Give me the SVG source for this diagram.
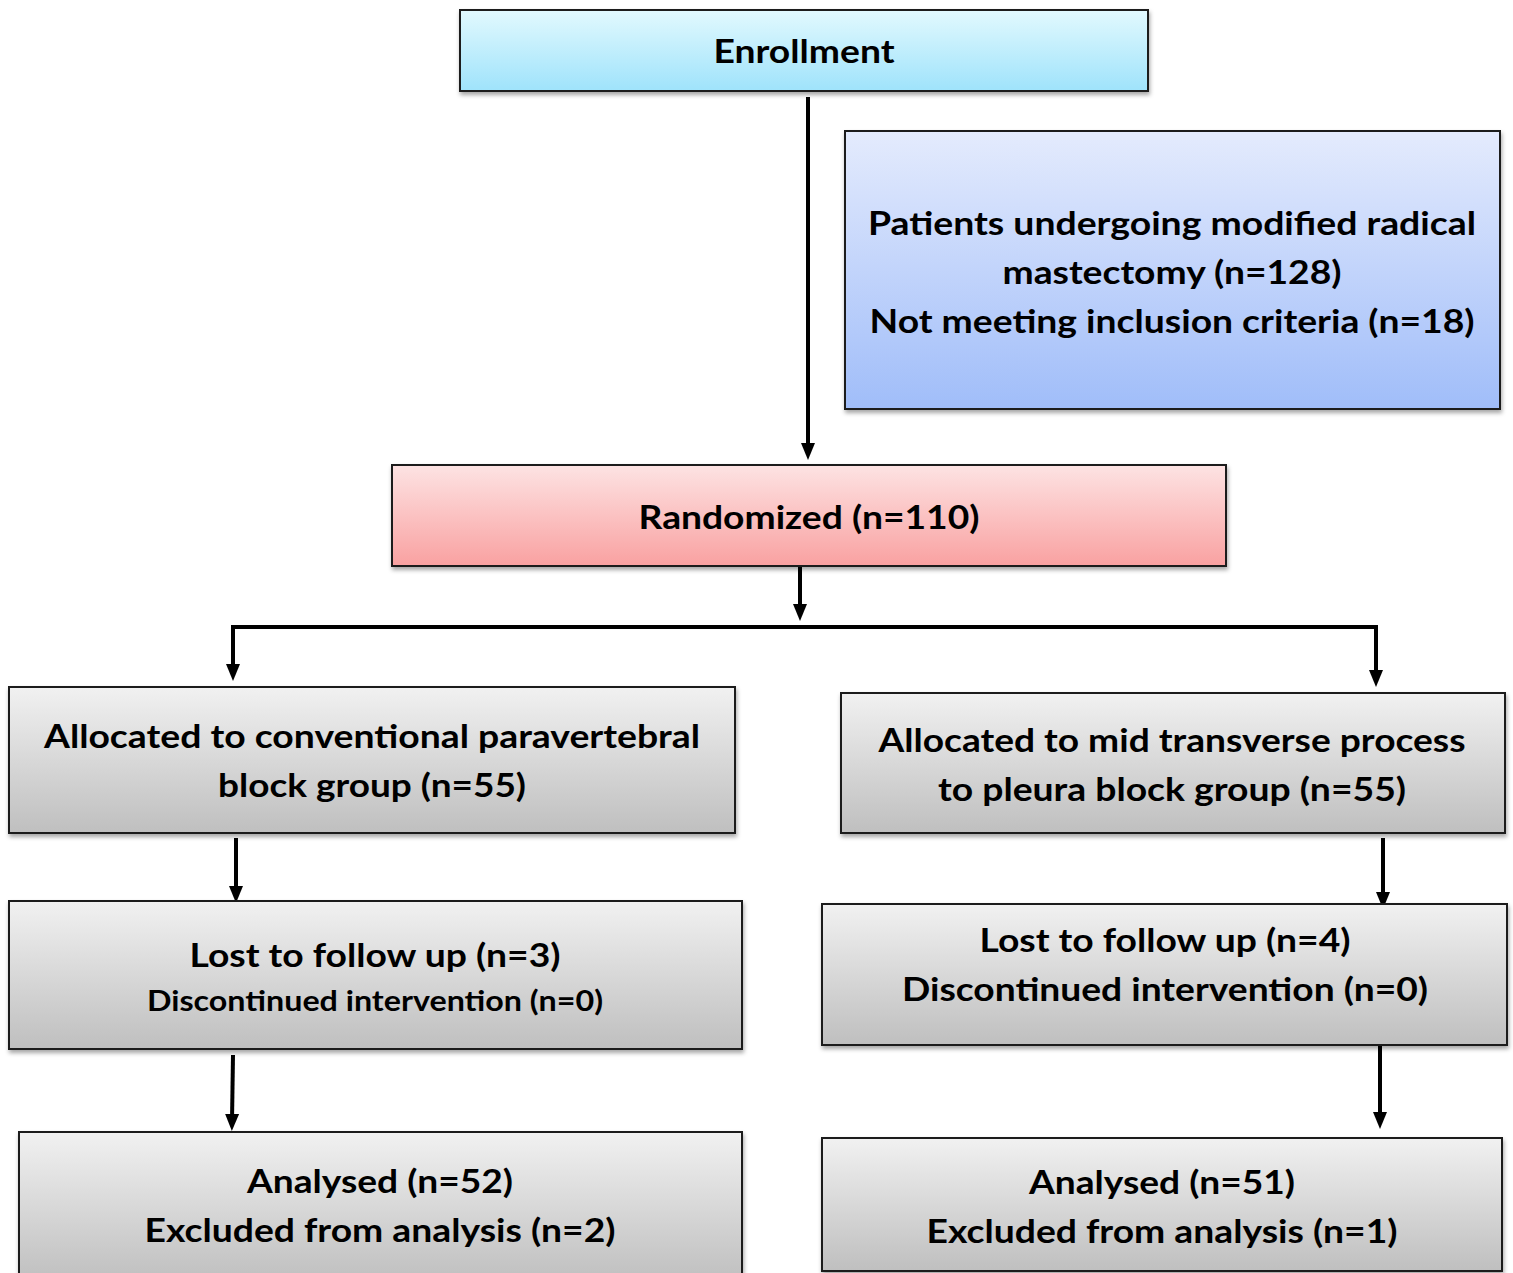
<svg xmlns="http://www.w3.org/2000/svg" width="1513" height="1273" viewBox="0 0 1513 1273">
<style>
.box{stroke:#1a1a1a;stroke-width:2;filter:url(#sh)}
.t{font-family:Lato,"Open Sans","Liberation Sans",sans-serif;font-weight:bold;font-size:33px;fill:#000;text-anchor:middle}
.s{font-size:28px}
.c{stroke:#000;stroke-width:4;fill:none}
.a{marker-end:url(#ah)}
</style>
<defs>
<linearGradient id="gc" x1="0" y1="0" x2="0" y2="1"><stop offset="0" stop-color="#e2f9fe"/><stop offset="1" stop-color="#9fe3fb"/></linearGradient>
<linearGradient id="gb" x1="0" y1="0" x2="0" y2="1"><stop offset="0" stop-color="#e4ebfd"/><stop offset="1" stop-color="#a0bdf9"/></linearGradient>
<linearGradient id="gp" x1="0" y1="0" x2="0" y2="1"><stop offset="0" stop-color="#fde3e3"/><stop offset="1" stop-color="#f9a1a1"/></linearGradient>
<linearGradient id="gg" x1="0" y1="0" x2="0" y2="1"><stop offset="0" stop-color="#f1f1f1"/><stop offset="1" stop-color="#bfbfbf"/></linearGradient>
<filter id="sh" x="-5%" y="-5%" width="110%" height="115%"><feDropShadow dx="1" dy="3" stdDeviation="2" flood-color="#000" flood-opacity="0.35"/></filter>
<marker id="ah" markerUnits="userSpaceOnUse" markerWidth="18" markerHeight="16" refX="7" refY="7" orient="auto" viewBox="0 0 18 14"><path d="M0,0 L17,7 L0,14 Z" fill="#000"/></marker>
</defs>

<g id="connectors">
<line class="c a" x1="808" y1="97" x2="808" y2="450"/>
<line class="c a" x1="800" y1="567" x2="800" y2="611"/>
<polyline class="c" points="233,627 1376,627"/>
<line class="c a" x1="233" y1="625" x2="233" y2="671"/>
<line class="c a" x1="1376" y1="625" x2="1376" y2="677"/>
<line class="c a" x1="236" y1="838" x2="236" y2="893"/>
<line class="c a" x1="1383" y1="838" x2="1383" y2="899"/>
<line class="c a" x1="233" y1="1055" x2="232" y2="1121"/>
<line class="c a" x1="1380" y1="1046" x2="1380" y2="1119"/>
</g>

<g id="enrollment">
<rect class="box" x="460" y="10" width="688" height="81" fill="url(#gc)"/>
<text class="t" x="804" y="63" textLength="181" lengthAdjust="spacingAndGlyphs">Enrollment</text>
</g>

<g id="patients">
<rect class="box" x="845" y="131" width="655" height="278" fill="url(#gb)"/>
<text class="t" x="1172" y="235" textLength="608" lengthAdjust="spacingAndGlyphs">Patients undergoing modified radical</text>
<text class="t" x="1172" y="284" textLength="339" lengthAdjust="spacingAndGlyphs">mastectomy (n=128)</text>
<text class="t" x="1172" y="333" textLength="605" lengthAdjust="spacingAndGlyphs">Not meeting inclusion criteria (n=18)</text>
</g>

<g id="randomized">
<rect class="box" x="392" y="465" width="834" height="101" fill="url(#gp)"/>
<text class="t" x="809" y="529" textLength="341" lengthAdjust="spacingAndGlyphs">Randomized (n=110)</text>
</g>

<g id="alloc-left">
<rect class="box" x="9" y="687" width="726" height="146" fill="url(#gg)"/>
<text class="t" x="372" y="748" textLength="656" lengthAdjust="spacingAndGlyphs">Allocated to conventional paravertebral</text>
<text class="t" x="372" y="797" textLength="308" lengthAdjust="spacingAndGlyphs">block group (n=55)</text>
</g>

<g id="alloc-right">
<rect class="box" x="841" y="693" width="664" height="140" fill="url(#gg)"/>
<text class="t" x="1172" y="752" textLength="587" lengthAdjust="spacingAndGlyphs">Allocated to mid transverse process</text>
<text class="t" x="1172" y="801" textLength="468" lengthAdjust="spacingAndGlyphs">to pleura block group (n=55)</text>
</g>

<g id="lost-left">
<rect class="box" x="9" y="901" width="733" height="148" fill="url(#gg)"/>
<text class="t" x="375" y="967" textLength="371" lengthAdjust="spacingAndGlyphs">Lost to follow up (n=3)</text>
<text class="t s" x="375" y="1011" textLength="456" lengthAdjust="spacingAndGlyphs">Discontinued intervention (n=0)</text>
</g>

<g id="lost-right">
<rect class="box" x="822" y="904" width="685" height="141" fill="url(#gg)"/>
<text class="t" x="1165" y="952" textLength="371" lengthAdjust="spacingAndGlyphs">Lost to follow up (n=4)</text>
<text class="t" x="1165" y="1001" textLength="526" lengthAdjust="spacingAndGlyphs">Discontinued intervention (n=0)</text>
</g>

<g id="analysed-left">
<rect class="box" x="19" y="1132" width="723" height="150" fill="url(#gg)"/>
<text class="t" x="380" y="1193" textLength="266" lengthAdjust="spacingAndGlyphs">Analysed (n=52)</text>
<text class="t" x="380" y="1242" textLength="471" lengthAdjust="spacingAndGlyphs">Excluded from analysis (n=2)</text>
</g>

<g id="analysed-right">
<rect class="box" x="822" y="1138" width="680" height="133" fill="url(#gg)"/>
<text class="t" x="1162" y="1194" textLength="266" lengthAdjust="spacingAndGlyphs">Analysed (n=51)</text>
<text class="t" x="1162" y="1243" textLength="471" lengthAdjust="spacingAndGlyphs">Excluded from analysis (n=1)</text>
</g>
</svg>
